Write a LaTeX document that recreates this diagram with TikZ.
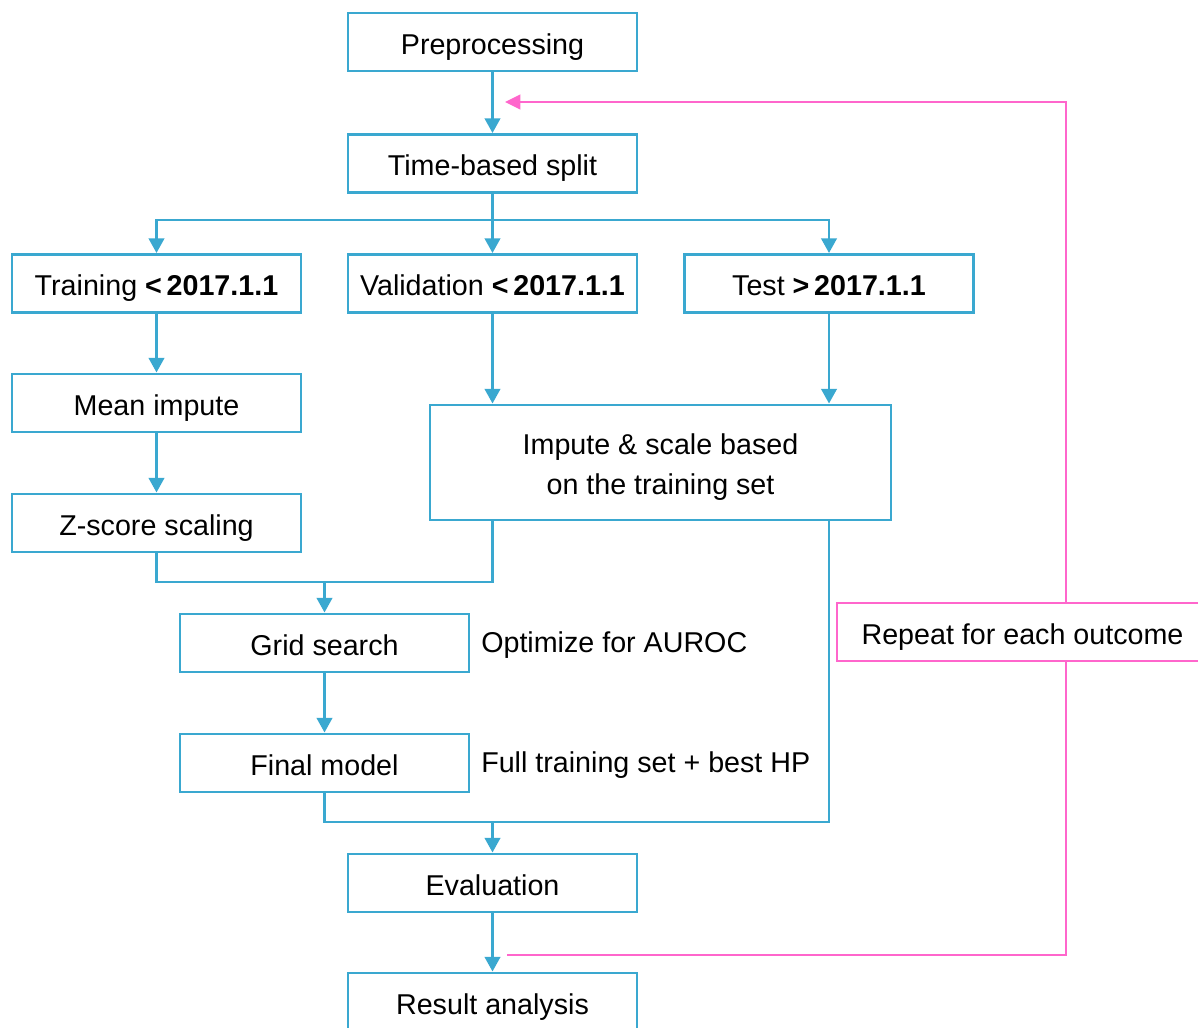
\documentclass[tikz,border=0pt]{standalone}
\usepackage{fontspec}
\setmainfont{Liberation Sans}
\usetikzlibrary{arrows.meta}
\definecolor{bl}{RGB}{58,168,208}
\definecolor{pk}{RGB}{255,102,204}
\begin{document}
\begin{tikzpicture}[x=0.75pt,y=-0.75pt,
 txt/.style={font=\fontsize{21.5}{30}\selectfont},
 box/.style={draw=bl,line width=2.2pt,minimum width=216.75pt,minimum height=43.5pt,inner sep=0pt,txt,text height=20pt,text depth=1.6pt},
 conn/.style={draw=bl,line width=2.2pt},
 arr/.style={conn,-{Triangle[width=11.5pt,length=11pt]}},
 pline/.style={draw=pk,line width=1.5pt},
 parr/.style={pline,-{Triangle[width=11pt,length=11.5pt]}},
 lbl/.style={txt,anchor=west,inner sep=0pt}]
\useasboundingbox[fill=white] (0,0) rectangle (1198,1027);
\node[box] (pre) at (492.5,42) {Preprocessing};
\node[box] (split) at (492.5,163.5) {Time-based split};
\node[box] (train) at (156.5,283.5) {Training \textbf{<\,2017.1.1}};
\node[box] (val) at (492.5,283.5) {Validation \textbf{<\,2017.1.1}};
\node[box] (test) at (829,283.5) {Test \textbf{>\,2017.1.1}};
\node[box] (mean) at (156.5,403) {Mean impute};
\node[box,minimum width=345.75pt,minimum height=86.25pt] (imp) at (660.5,462.5) {};
\node[txt,align=center,inner sep=0pt] (impt) at (660.5,467) {Impute \& scale based\\on the training set};
\node[box] (z) at (156.5,523) {Z-score scaling};
\node[box] (grid) at (324.5,643) {Grid search};
\node[box] (final) at (324.5,763) {Final model};
\node[box] (eval) at (492.5,883) {Evaluation};
\node[box] (res) at (492.5,1002) {Result analysis};
\node[box,draw=pk,line width=1.5pt,minimum width=278.25pt] (rep) at (1022.5,632) {Repeat for each outcome};
\node[lbl] (opt) at (481,645) {Optimize for AUROC};
\node[lbl] (full) at (481,765) {Full training set + best HP};
\draw[arr] (pre) -- (split);
\coordinate (br) at (492.5,220);
\draw[conn] (split.south) -- (br);
\draw[arr] (br) -| (train.north);
\draw[arr] (br) -- (val.north);
\draw[arr] (br) -| (test.north);
\draw[arr] (train) -- (mean);
\draw[arr] (mean) -- (z);
\draw[arr] (val.south) -- (val.south |- imp.north);
\draw[arr] (test.south) -- (test.south |- imp.north);
\coordinate (m1) at (324.5,582);
\draw[conn] (z.south) |- (m1) -| (val.south |- imp.south);
\draw[arr] (m1) -- (grid);
\draw[arr] (grid) -- (final);
\coordinate (m2) at (492.5,822);
\draw[conn] (final.south) |- (m2) -| (test.south |- imp.south);
\draw[arr] (m2) -- (eval);
\draw[arr] (eval) -- (res);
\coordinate (pin) at (505,102);
\coordinate (pout) at (507,955);
\coordinate (px) at (1066,0);
\draw[pline] (pout) -| (rep.south -| px);
\draw[parr] (rep.north -| px) |- (pin);
\end{tikzpicture}
\end{document}
